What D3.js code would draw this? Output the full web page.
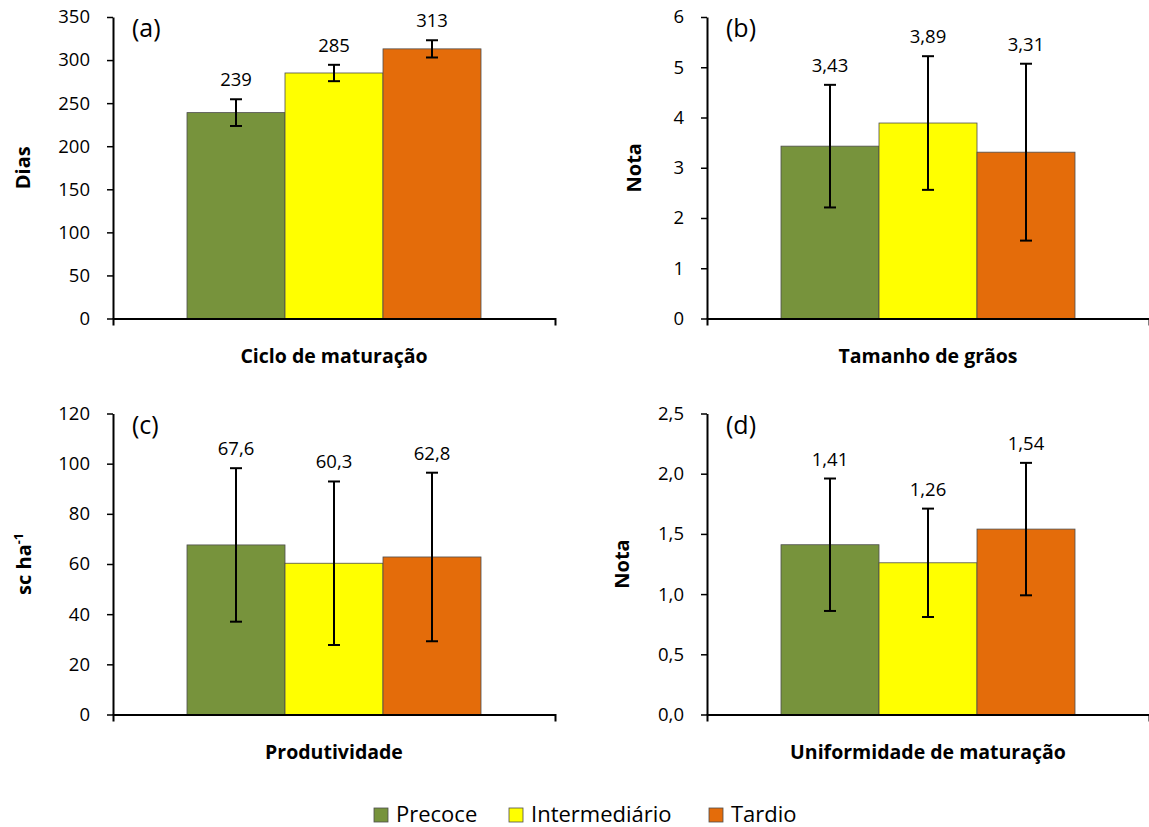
<!DOCTYPE html>
<html>
<head>
<meta charset="utf-8">
<script src="https://cdn.jsdelivr.net/npm/d3@7"></script>
<style>
  body { margin: 0; background: #fff; }
  text { font-family: "Open Sans", sans-serif; fill: #000; }
</style>
</head>
<body>
<div id="chart"></div>
<script>
// series (legend)
var series = ["Precoce", "Intermediário", "Tardio"];
var colors = ["#77933C", "#FFFF00", "#E46C0A"];

// (a) Ciclo de maturação
var cicloMeans = [239, 285, 313];
var cicloErr = [15.5, 9.5, 10];
// (b) Tamanho de grãos
var graosMeans = [3.43, 3.89, 3.31];
var graosErr = [1.22, 1.33, 1.76];
// (c) Produtividade
var prodMeans = [67.6, 60.3, 62.8];
var prodErr = [30.6, 32.6, 33.6];
// (d) Uniformidade de maturação
var unifMeans = [1.41, 1.26, 1.54];
var unifErr = [0.55, 0.45, 0.55];

var panelTags = ["(a)", "(b)", "(c)", "(d)"];
var xTitles = ["Ciclo de maturação", "Tamanho de grãos", "Produtividade", "Uniformidade de maturação"];
var yTitles = ["Dias", "Nota", "sc ha", "Nota"];
var yMax = [350, 6, 120, 2.5];
var yStep = [50, 1, 20, 0.5];
var tickDecimals = [0, 0, 0, 1];
var labelDecimals = [0, 2, 1, 2];

var ptBR = d3.formatLocale({decimal: ",", thousands: ".", grouping: [3], currency: ["R$", ""]});

var W = 1149, H = 827;
var svg = d3.select("#chart").append("svg")
    .attr("width", W)
    .attr("height", H);

// layout of the 4 panels
var layout = [
    {x0: 113, top: 17,  bottom: 318.5, titleX: 23},
    {x0: 707, top: 17,  bottom: 318.5, titleX: 634},
    {x0: 113, top: 413.5, bottom: 714.5, titleX: 24},
    {x0: 707, top: 413.5, bottom: 714.5, titleX: 622}
];
var axisW = 442, groupW = 294;

var panels = [
    {means: cicloMeans, err: cicloErr},
    {means: graosMeans, err: graosErr},
    {means: prodMeans, err: prodErr},
    {means: unifMeans, err: unifErr}
];

panels.forEach(function(p, i){
    var L = layout[i];
    var g = svg.append("g");

    var y = d3.scaleLinear()
        .domain([0, yMax[i]])
        .range([L.bottom, L.top]);

    var cx = L.x0 + axisW / 2;
    var x = d3.scaleBand()
        .domain(series)
        .range([cx - groupW / 2, cx + groupW / 2])
        .padding(0);

    var data = series.map(function(s, k){
        return {name: s, mean: p.means[k], err: p.err[k], color: colors[k]};
    });

    // bars
    g.selectAll(".bar")
        .data(data)
        .enter()
        .append("rect")
            .attr("class", "bar")
            .attr("x", function(d){ return x(d.name); })
            .attr("width", x.bandwidth())
            .attr("y", function(d){ return y(d.mean); })
            .attr("height", function(d){ return y(0) - y(d.mean); })
            .attr("fill", function(d){ return d.color; })
            .attr("stroke", "#4d4d4d")
            .attr("stroke-width", 0.8);

    // y axis
    var ticks = d3.range(0, yMax[i] + yStep[i] / 2, yStep[i]);
    var yAxis = g.append("g")
        .attr("transform", "translate(" + L.x0 + ",0)")
        .call(d3.axisLeft(y)
            .tickValues(ticks)
            .tickSize(6)
            .tickSizeOuter(0)
            .tickPadding(17)
            .tickFormat(ptBR.format("." + tickDecimals[i] + "f")));
    yAxis.select(".domain").attr("stroke-width", 2);
    yAxis.selectAll(".tick line").attr("stroke-width", 1.5);
    yAxis.selectAll("text")
        .style("font-family", "'Open Sans', sans-serif")
        .style("font-size", "18.5px")
        .attr("fill", "#000");

    // x axis (single category, end ticks only)
    var xs = d3.scaleLinear().domain([0, 1]).range([L.x0, L.x0 + axisW]);
    var xAxis = g.append("g")
        .attr("transform", "translate(0," + L.bottom + ")")
        .call(d3.axisBottom(xs).tickValues([]).tickSizeOuter(7));
    xAxis.select(".domain").attr("stroke-width", 2);

    // error bars
    var eb = g.selectAll(".err")
        .data(data)
        .enter()
        .append("g")
        .attr("class", "err")
        .attr("stroke", "#000")
        .attr("stroke-width", 2);
    eb.append("line")
        .attr("x1", function(d){ return x(d.name) + x.bandwidth() / 2; })
        .attr("x2", function(d){ return x(d.name) + x.bandwidth() / 2; })
        .attr("y1", function(d){ return y(d.mean + d.err); })
        .attr("y2", function(d){ return y(d.mean - d.err); });
    [1, -1].forEach(function(sgn){
        eb.append("line")
            .attr("x1", function(d){ return x(d.name) + x.bandwidth() / 2 - 6; })
            .attr("x2", function(d){ return x(d.name) + x.bandwidth() / 2 + 6; })
            .attr("y1", function(d){ return y(d.mean + sgn * d.err); })
            .attr("y2", function(d){ return y(d.mean + sgn * d.err); });
    });

    // value labels
    g.selectAll(".lbl")
        .data(data)
        .enter()
        .append("text")
            .attr("class", "lbl")
            .attr("x", function(d){ return x(d.name) + x.bandwidth() / 2; })
            .attr("y", function(d){ return y(d.mean + d.err) - 13; })
            .attr("text-anchor", "middle")
            .style("font-size", "18.5px")
            .text(function(d){ return ptBR.format("." + labelDecimals[i] + "f")(d.mean); });

    // panel tag
    g.append("text")
        .attr("x", L.x0 + 19)
        .attr("y", L.top + 20)
        .style("font-size", "25px")
        .text(panelTags[i]);

    // x title
    g.append("text")
        .attr("x", cx)
        .attr("y", L.bottom + 44)
        .attr("text-anchor", "middle")
        .style("font-size", "19.5px")
        .style("font-weight", "bold")
        .text(xTitles[i]);

    // y title
    var yt = g.append("text")
        .attr("transform", "translate(" + (L.titleX + 7) + "," + ((L.top + L.bottom) / 2) + ") rotate(-90)")
        .attr("text-anchor", "middle")
        .style("font-size", "20px")
        .style("font-weight", "bold")
        .text(yTitles[i]);
    if (i == 2) {
        yt.append("tspan")
            .attr("dy", -8)
            .style("font-size", "12.5px")
            .text("-1");
    }
});

// legend
var legendX = [374, 509, 709];
var leg = svg.selectAll(".leg")
    .data(series)
    .enter()
    .append("g")
    .attr("class", "leg")
    .attr("transform", function(d, k){ return "translate(" + legendX[k] + ",808)"; });
leg.append("rect")
    .attr("width", 14)
    .attr("height", 14)
    .attr("fill", function(d, k){ return colors[k]; })
    .attr("stroke", "#4d4d4d")
    .attr("stroke-width", 0.8);
leg.append("text")
    .attr("x", 22)
    .attr("y", 14)
    .style("font-size", "22px")
    .text(function(d){ return d; });
</script>
</body>
</html>
